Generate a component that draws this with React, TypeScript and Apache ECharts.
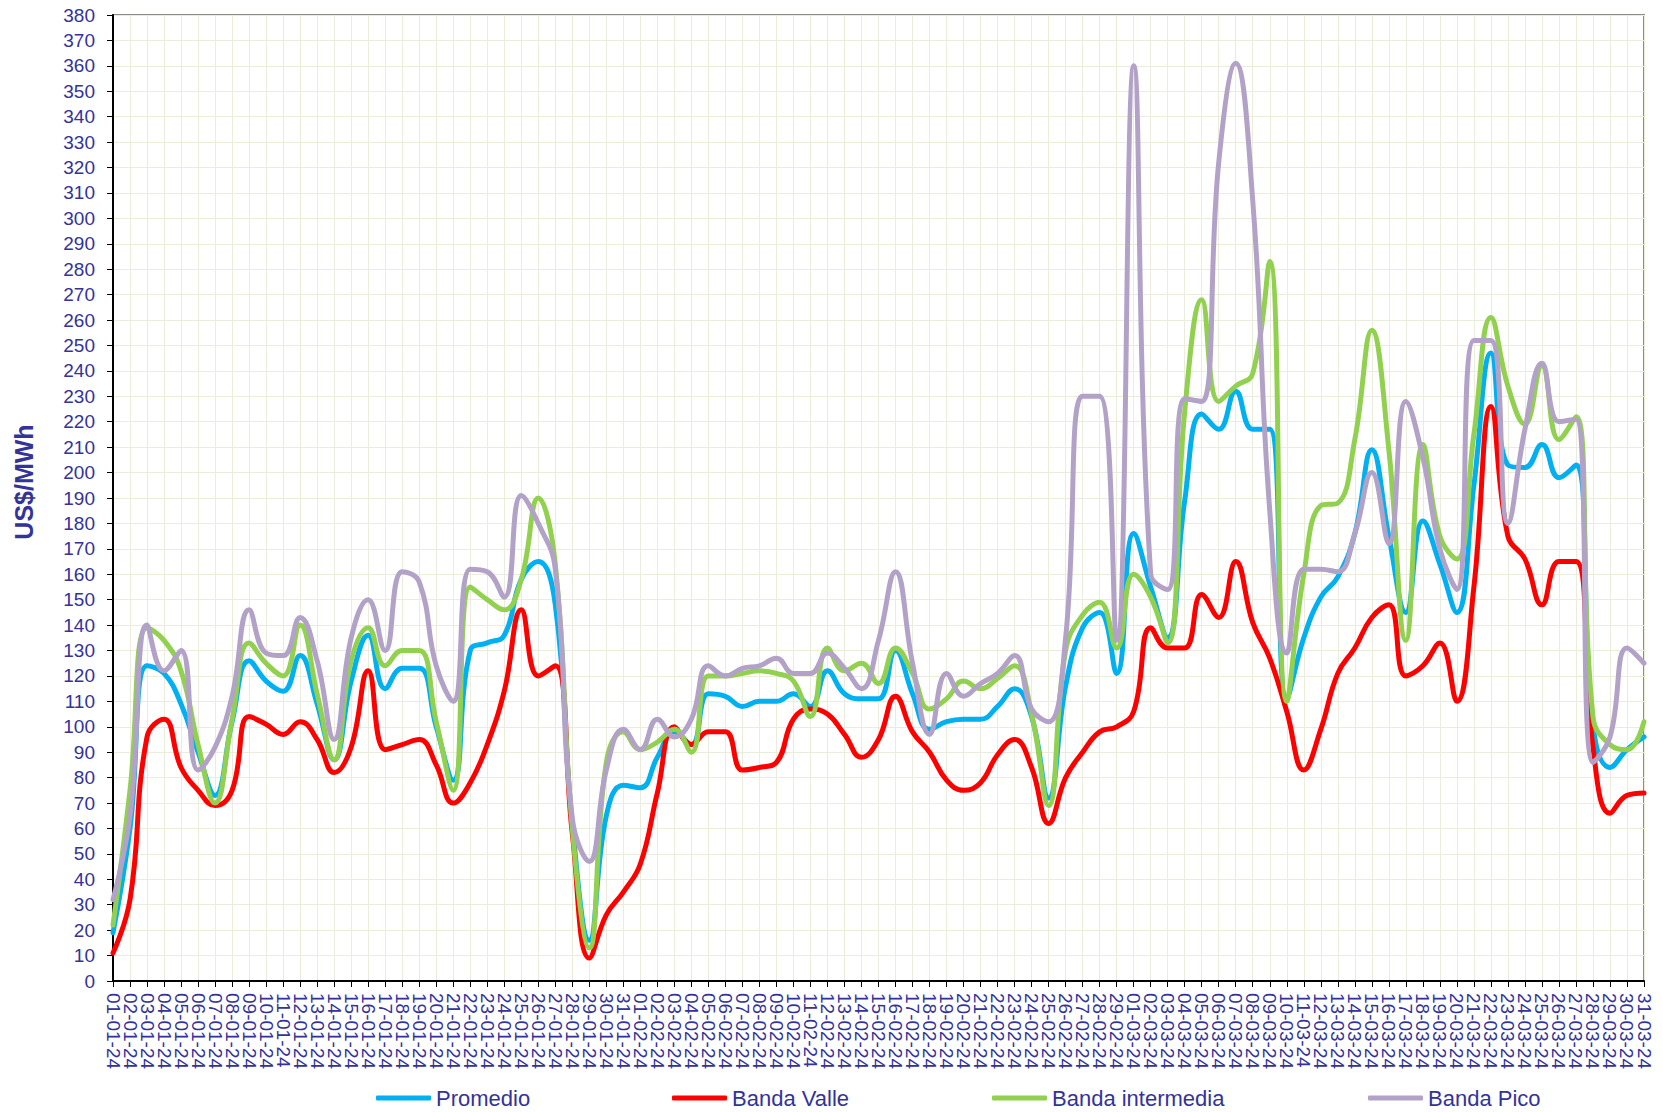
import React, { useEffect, useRef } from "react";
import * as echarts from "echarts";

const dates: string[] = [
  "01-01-24","02-01-24","03-01-24","04-01-24","05-01-24","06-01-24","07-01-24","08-01-24","09-01-24","10-01-24",
  "11-01-24","12-01-24","13-01-24","14-01-24","15-01-24","16-01-24","17-01-24","18-01-24","19-01-24","20-01-24",
  "21-01-24","22-01-24","23-01-24","24-01-24","25-01-24","26-01-24","27-01-24","28-01-24","29-01-24","30-01-24",
  "31-01-24","01-02-24","02-02-24","03-02-24","04-02-24","05-02-24","06-02-24","07-02-24","08-02-24","09-02-24",
  "10-02-24","11-02-24","12-02-24","13-02-24","14-02-24","15-02-24","16-02-24","17-02-24","18-02-24","19-02-24",
  "20-02-24","21-02-24","22-02-24","23-02-24","24-02-24","25-02-24","26-02-24","27-02-24","28-02-24","29-02-24",
  "01-03-24","02-03-24","03-03-24","04-03-24","05-03-24","06-03-24","07-03-24","08-03-24","09-03-24","10-03-24",
  "11-03-24","12-03-24","13-03-24","14-03-24","15-03-24","16-03-24","17-03-24","18-03-24","19-03-24","20-03-24",
  "21-03-24","22-03-24","23-03-24","24-03-24","25-03-24","26-03-24","27-03-24","28-03-24","29-03-24","30-03-24",
  "31-03-24",
];

const promedio: number[] = [
  19, 60, 124, 121, 109, 90, 73, 102, 126, 118,
  114, 128, 109, 87, 118, 136, 115, 123, 123, 100,
  79, 130, 133, 136, 158, 165, 148, 62, 16, 65,
  77, 76, 88, 98, 93, 113, 112, 108, 110, 110,
  113, 108, 122, 113, 111, 111, 130, 113, 99, 102,
  103, 103, 108, 115, 104, 72, 116, 139, 145, 121,
  176, 155, 135, 189, 223, 217, 232, 217, 217, 111,
  135, 151, 159, 176, 209, 175, 145, 181, 164, 145,
  195, 247, 203, 202, 211, 198, 203, 101, 84, 91,
  96,
];

const bandaValle: number[] = [
  11, 32, 96, 103, 84, 75, 69, 75, 104, 101,
  97, 102, 95, 82, 92, 122, 91, 93, 95, 85,
  70, 78, 93, 114, 146, 120, 124, 58, 9, 26,
  35, 46, 74, 100, 93, 98, 98, 83, 84, 86,
  103, 107, 105, 97, 88, 95, 112, 98, 90, 79,
  75, 78, 89, 95, 84, 62, 80, 90, 98, 100,
  106, 139, 131, 131, 152, 143, 165, 141, 127, 106,
  83, 99, 121, 131, 143, 148, 120, 124, 133, 110,
  155, 226, 175, 166, 148, 165, 165, 92, 66, 73,
  74,
];

const bandaIntermedia: number[] = [
  22, 75, 139, 134, 122, 93, 70, 103, 133, 125,
  120, 140, 113, 87, 126, 139, 124, 130, 130, 102,
  75, 155, 150, 146, 158, 190, 164, 60, 13, 86,
  98, 91, 94, 99, 90, 120, 120, 121, 122, 121,
  118, 104, 131, 122, 125, 117, 131, 121, 107, 111,
  118, 115, 119, 124, 105, 69, 130, 144, 149, 131,
  160, 151, 133, 224, 268, 228, 234, 239, 283, 110,
  160, 187, 188, 213, 256, 209, 134, 211, 175, 166,
  215, 261, 234, 219, 242, 213, 222, 104, 93, 91,
  102,
];

const bandaPico: number[] = [
  32, 65, 140, 122, 130, 83, 92, 112, 146, 129,
  128, 143, 126, 95, 135, 150, 130, 161, 157, 124,
  110, 162, 161, 151, 191, 180, 162, 64, 47, 83,
  99, 91, 103, 96, 103, 124, 120, 123, 124, 127,
  121, 121, 129, 123, 115, 134, 161, 125, 97, 121,
  112, 117, 121, 128, 107, 102, 135, 230, 230, 134,
  360, 160, 154, 229, 228, 322, 361, 307, 185, 129,
  162, 162, 161, 176, 200, 172, 228, 206, 170, 154,
  252, 252, 180, 217, 243, 220, 221, 86, 96, 131,
  125,
];

const seriesNames: string[] = ["Promedio", "Banda Valle", "Banda intermedia", "Banda Pico"];
const seriesColors: string[] = ["#00B0F0", "#FF0000", "#92D050", "#B3A2C7"];
const yAxisTitle = "US$/MWh";

const FONT = "'Liberation Sans', Arial, sans-serif";
const TEXT_COLOR = "#333399";
const GRID_COLOR = "#ECECDD";

export default function App() {
  const ref = useRef<HTMLDivElement | null>(null);

  useEffect(() => {
    if (!ref.current) return;
    const chart = echarts.init(ref.current, undefined, { renderer: "svg" });
    const dataSets = [promedio, bandaValle, bandaIntermedia, bandaPico];
    const legendLefts = [376, 672, 992, 1368];

    const option: any = {
      animation: false,
      backgroundColor: "#FFFFFF",
      grid: {
        left: 113,
        right: 19,
        top: 15,
        bottom: 131,
        show: true,
        borderColor: "#8C8C8C",
        borderWidth: 2,
        backgroundColor: "transparent",
      },
      legend: seriesNames.map((n, i) => ({
        data: [n],
        left: legendLefts[i],
        top: 1085,
        icon: "roundRect",
        itemWidth: 55,
        itemHeight: 5,
        textStyle: { color: TEXT_COLOR, fontSize: 22, fontFamily: FONT, lineHeight: 26 },
        padding: 0,
      })),
      xAxis: {
        type: "category",
        data: dates,
        boundaryGap: false,
        axisLine: { show: true, lineStyle: { color: "#000000", width: 2 } },
        axisTick: { show: true, interval: 0, length: 6, lineStyle: { color: "#000000", width: 1 } },
        axisLabel: {
          interval: 0,
          rotate: -90,
          margin: 12,
          color: TEXT_COLOR,
          fontSize: 19,
          fontFamily: FONT,
        },
        splitLine: { show: true, interval: 0, lineStyle: { color: GRID_COLOR, width: 1 } },
      },
      yAxis: {
        type: "value",
        min: 0,
        max: 380,
        interval: 10,
        axisLine: { show: true, lineStyle: { color: "#000000", width: 2 } },
        axisTick: { show: true, length: 6, lineStyle: { color: "#000000", width: 1 } },
        axisLabel: { color: TEXT_COLOR, fontSize: 19, fontFamily: FONT, margin: 18 },
        splitLine: { show: true, lineStyle: { color: GRID_COLOR, width: 1 } },
      },
      graphic: [
        {
          type: "text",
          x: 24,
          y: 482,
          rotation: Math.PI / 2,
          style: {
            text: yAxisTitle,
            fill: TEXT_COLOR,
            font: `bold 25px ${FONT}`,
            textAlign: "center",
            textVerticalAlign: "middle",
          },
        },
      ],
      series: seriesNames.map((n, i) => ({
        name: n,
        type: "line",
        data: dataSets[i],
        smooth: 0.45,
        symbol: "none",
        color: seriesColors[i],
        lineStyle: { color: seriesColors[i], width: 5, cap: "round", join: "round" },
      })),
    };

    chart.setOption(option);
    return () => chart.dispose();
  }, []);

  return (
    <div
      ref={ref}
      style={{ position: "fixed", left: 0, top: 0, width: 1663, height: 1112, background: "#fff" }}
    />
  );
}
